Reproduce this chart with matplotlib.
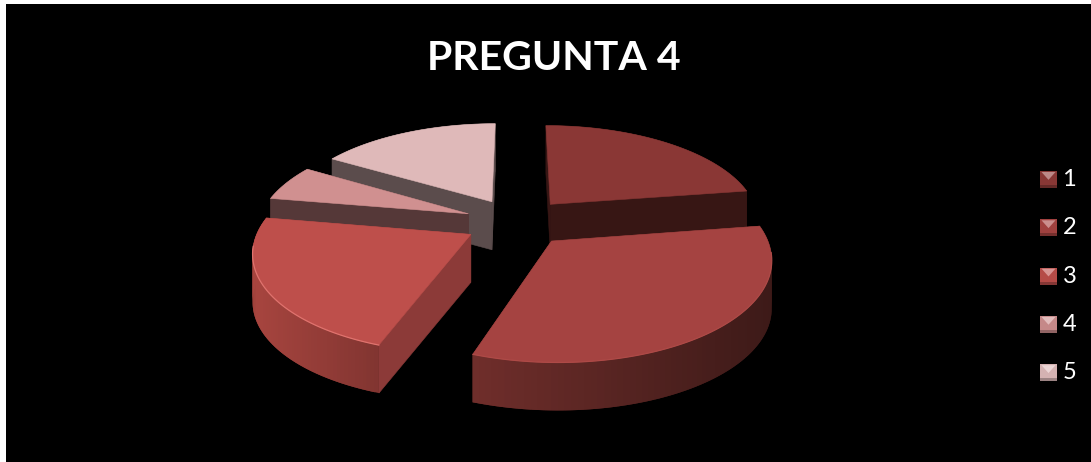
import numpy as np
import matplotlib
matplotlib.use("Agg")
import matplotlib.pyplot as plt
from matplotlib.colors import to_rgb
from matplotlib.patches import Polygon, Rectangle

plt.rcParams["font.family"] = ["Lato", "DejaVu Sans"]

title = "PREGUNTA 4"
labels = ["1", "2", "3", "4", "5"]
values = [22.6, 32.8, 22.3, 5.9, 16.4]

# slice colours: top face, cut face, outer wall at its light and dark end
top_colors = ["#8A3735", "#A54341", "#BE4F4B", "#D09090", "#DFB9B9"]
cut_colors = ["#371614", "#5A2422", "#8C3A38", "#553838", "#5B4C4C"]
wall_light = ["#371614", "#702E2B", "#A8453F", "#553838", "#5B4C4C"]
wall_dark = ["#371614", "#3D1A18", "#823531", "#553838", "#5B4C4C"]
rim_colors = ["#8A3735", "#AE4A47", "#E0736E", "#D09090", "#DFB9B9"]
legend_colors = ["#8F3A38", "#A84442", "#BE4F4B", "#CF8F8F", "#DFBBBB"]

# pie projection settings, in pixels
CX, CY = 517, 222
RX, RY = 210, 96
PERSP = 0.155
EXPLODE = 0.25
DEPTH = 48


def project(u, v, drop=0):
    w = 1 + PERSP * v
    return CX + RX * u / w, CY - RY * v / w + drop


def mix(c1, c2, t):
    a, b = np.array(to_rgb(c1)), np.array(to_rgb(c2))
    return tuple(a + (b - a) * t)


def draw_slice(ax, start, end, i):
    mid = (start + end) / 2
    off_u = EXPLODE * np.sin(mid)
    off_v = EXPLODE * np.cos(mid)
    th = np.linspace(start, end, 80)
    xs, ys = project(off_u + np.sin(th), off_v + np.cos(th))
    xb, yb = project(off_u + np.sin(th), off_v + np.cos(th), DEPTH)
    ax0, ay0 = project(off_u, off_v)
    bx0, by0 = project(off_u, off_v, DEPTH)

    # flat cut faces
    for k in (0, -1):
        pts = [(ax0, ay0), (xs[k], ys[k]), (xb[k], yb[k]), (bx0, by0)]
        ax.add_patch(Polygon(pts, closed=True, fc=cut_colors[i], ec=cut_colors[i], lw=0.4))

    # outer wall, overlapping strips so no seams show
    span = xs.max() - xs.min()
    for k in range(len(th) - 1):
        t = (xs[k] - xs.min()) / span
        col = mix(wall_light[i], wall_dark[i], t)
        n = min(k + 2, len(th) - 1)
        pts = [(xs[k], ys[k]), (xs[n], ys[n]), (xb[n], yb[n]), (xb[k], yb[k])]
        ax.add_patch(Polygon(pts, closed=True, fc=col, ec="none", lw=0))

    # top face and thin lit rim along the front
    top = np.column_stack([np.r_[ax0, xs], np.r_[ay0, ys]])
    ax.add_patch(Polygon(top, closed=True, fc=top_colors[i], ec=top_colors[i], lw=0.4))
    front = np.cos(th) < -0.1
    if front.any():
        ax.plot(xs[front], ys[front], color=rim_colors[i], lw=0.9, solid_capstyle="round")


def draw_legend_key(ax, x, y, size, color):
    # bevelled square key: lit chevron on top, dark band at the bottom
    cx, cy = x + size / 2, y + size * 0.52
    ax.add_patch(Rectangle((x, y), size, size, fc=mix(color, "black", 0.05), ec="none"))
    ax.add_patch(Polygon([(x + 1.5, y + 1), (x + size - 1.5, y + 1), (cx, cy)],
                         closed=True, fc=mix(color, "white", 0.4), ec="none"))
    ax.add_patch(Rectangle((x, y + size - 3), size, 3, fc=mix(color, "black", 0.3), ec="none"))


fig = plt.figure(figsize=(10.91, 4.62), dpi=100, facecolor="white")
ax = fig.add_axes([0, 0, 1, 1])
ax.set_xlim(0, 1091)
ax.set_ylim(462, 0)
ax.axis("off")
ax.add_patch(Rectangle((6, 4), 1085, 458, fc="black", ec="none"))

angles = np.radians(np.r_[0, np.cumsum(values)] / sum(values) * 360)

# back slices first so the nearer ones overlap them
for i in [0, 4, 3, 2, 1]:
    draw_slice(ax, angles[i], angles[i + 1], i)

ax.text(554, 58, title, color="white", fontsize=29.5, fontweight="bold", ha="center", va="center")

for i, lab in enumerate(labels):
    y = 179.5 + i * 48.3
    draw_legend_key(ax, 1040, y - 8.5, 17, legend_colors[i])
    ax.text(1062.5, y, lab, color="white", fontsize=17, ha="left", va="center")

fig.savefig("out.png", dpi=100, facecolor="white")
